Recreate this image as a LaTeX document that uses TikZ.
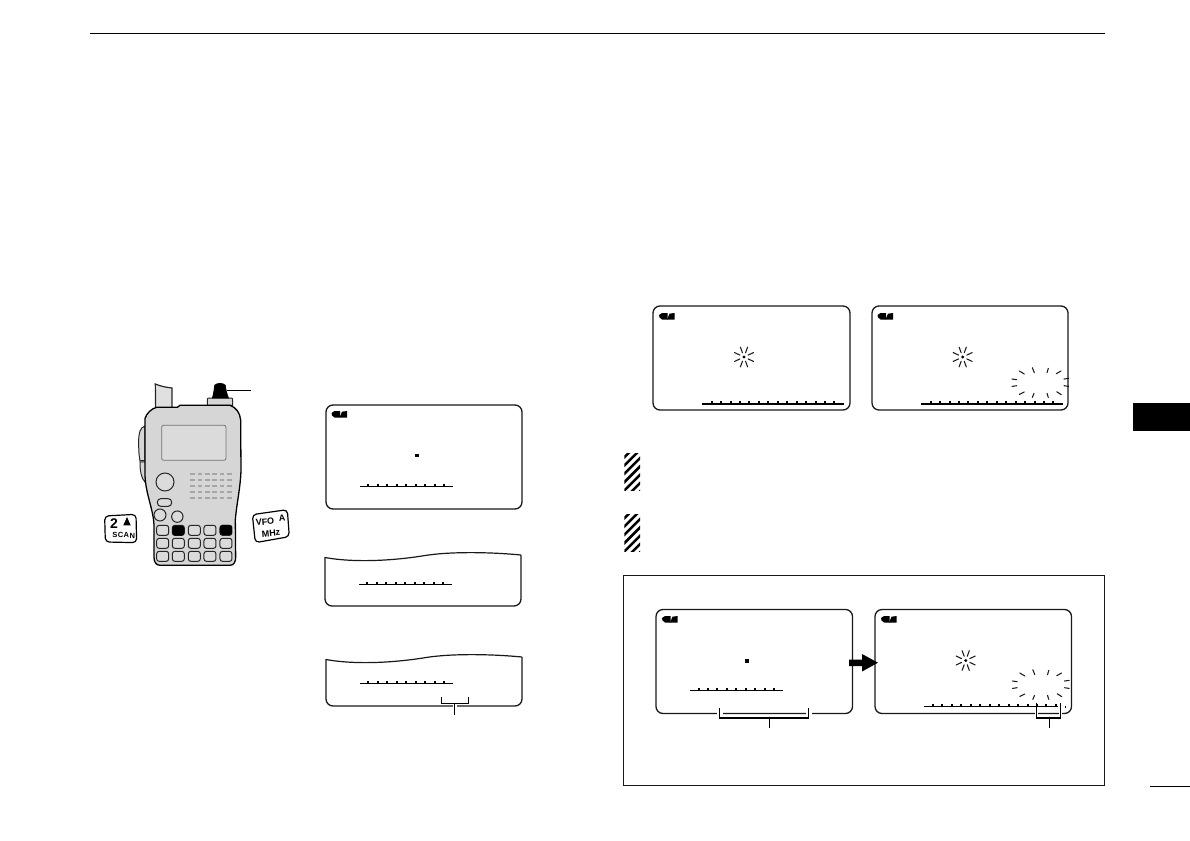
\documentclass[tikz,border=0pt]{standalone}
\usepackage{fontspec}
\setmainfont{Liberation Sans}
\tikzset{
  lcdbox/.style={draw=black!90,line width=1.3pt,rounded corners=7pt,fill=white},
  rule/.style={line width=1.5pt,draw=black},
  thinline/.style={line width=1.1pt,draw=black},
  burstray/.style={line width=1.05pt,draw=black!90,line cap=round},
  bodyline/.style={draw=black!85,line width=1pt},
  keytext/.style={inner sep=0pt,font=\bfseries\fontsize{9}{9}\selectfont},
  halo/.style={draw=white,line width=4pt}
}
\newcommand{\lcdicon}[2]{%
  \fill[black] (#1,#2+2) -- (#1+3,#2) -- (#1+8.5,#2) -- (#1+8.5,#2+6.5) -- (#1+3,#2+6.5) -- (#1+0.5,#2+4.5) -- cycle;
  \fill[black] (#1+10.5,#2+0.7) -- (#1+15.5,#2) -- (#1+15.5,#2+6.5) -- (#1+8,#2+6.5) -- cycle;
}
\newcommand{\lcdscale}[6]{%
  \draw[rule] (#1,#3) -- (#2,#3);
  \foreach \i in {0,...,#6} \fill[black] (#4+\i*#5-1,#3-2.6) rectangle (#4+\i*#5+1,#3);
}
\newcommand{\lcdburst}[2]{%
  \fill[black] (#1,#2) circle (1.7pt);
  \foreach \a in {25,70,110,155,205,250,290,335}
    \draw[burstray] ({#1+4.5*cos(\a)},{#2-4.5*sin(\a)}) -- ({#1+10.5*cos(\a)},{#2-10.5*sin(\a)});
}
\newcommand{\bigburst}[2]{%
  \begin{scope}[shift={(#1,#2)}]
  \foreach \xa/\ya/\xb/\yb in {-20.7/-11.7/-15.7/-8.7,-7.7/-15/-5.7/-10,8.3/-14.3/7/-10,21/-11.7/16.3/-9,
     -28/-3.7/-23.3/-3,-28/3.7/-23.3/3,-20.7/11.7/-15.7/9.3,-7.7/14.7/-6/10.7,8.3/14.7/7/10.7,21.3/12/16.7/9,
     24/-3.7/28.7/-4.3,24/3/28.7/3.7}
    \draw[burstray] (\xa,\ya) -- (\xb,\yb);
  \end{scope}
}
\newcommand{\hatchbar}[2]{%
  \begin{scope}
  \clip (#1,#2) rectangle (#1+15.7,#2+37.7);
  \foreach \k in {0,...,7}
    \draw[black,line width=2.5pt] (#1-4,#2+\k*8.3) -- (#1+20,#2+\k*8.3-24);
  \end{scope}
}
\begin{document}
\begin{tikzpicture}[x=1pt,y=-1pt]
\useasboundingbox (0,0) rectangle (1190,840);
\draw[black,line width=1.9pt] (90,33.5) -- (1105,33.5);
\fill[black] (1133,403) rectangle (1190,431);
\draw[black,line width=1.5pt] (1150,786.5) -- (1190,786.5);

% transceiver
\begin{scope}[shift={(90,370)},x=0.3333pt,y=-0.3333pt]
  \draw[bodyline,line width=1.2pt,fill=black!12] (196,42) .. controls (215,50) and (230,52) .. (246,54) -- (246,115) -- (197,115) -- cycle;
  \draw[bodyline,fill=black!16] (352,106) -- (352,88) .. controls (352,85) and (354,84) .. (358,84) -- (422,84) .. controls (426,84) and (428,85) .. (428,88) -- (428,106) -- cycle;
  \fill[black] (366,85) .. controls (370,70) and (372,55) .. (373,45) .. controls (380,37) and (400,37) .. (407,45) .. controls (408,58) and (412,72) .. (417,85) -- cycle;
  \draw[thinline] (412,62) -- (483,62);
  \draw[bodyline,fill=black!16] (165,168) .. controls (150,172) and (146,190) .. (146,215) .. controls (146,240) and (147,260) .. (150,272) -- (165,272) -- cycle;
  \draw[bodyline,fill=black!16] (150,276) .. controls (150,300) and (153,325) .. (165,336) -- (172,300) -- (165,276) -- cycle;
  \draw[draw=black,line width=1.3pt,fill=black!16] (165,145) .. controls (170,130) and (185,115) .. (200,112) -- (262,112) -- (270,106) -- (420,106) .. controls (438,112) and (450,128) .. (452,150)
    -- (453,300) .. controls (452,350) and (440,400) .. (436,450) -- (437,562) .. controls (437,575) and (432,586) .. (420,586)
    -- (210,586) .. controls (198,586) and (192,575) .. (192,562) -- (192,470) .. controls (192,420) and (165,370) .. (165,310) -- cycle;
  \draw[draw=black!55,line width=0.8pt,rounded corners=2pt,fill=black!14] (215,166) rectangle (408,271);
  \draw[bodyline,fill=black!14] (225,336) circle (9pt);
  \draw[bodyline,fill=black!14,rounded corners=3.5pt] (202,386) rectangle (245,409);
  \draw[bodyline,fill=black!14] (210,435) circle (6pt);
  \draw[bodyline,fill=black!14] (262,440) circle (5.7pt);
  \foreach \gy in {312,330,348,367,385}
    \foreach \gx in {308,330,352,374,396,418}
      \fill[black!35] (\gx-7,\gy-3) rectangle (\gx+7,\gy+3);
  \foreach \ky in {481,520,559}
    \foreach \kx in {218,265,313,360,408}
      \draw[bodyline,fill=black!14,rounded corners=2.5pt] (\kx-18,\ky-15) rectangle (\kx+18,\ky+15);
  \fill[black,rounded corners=2.5pt] (247,467) rectangle (283,497);
  \fill[black,rounded corners=2.5pt] (390,465) rectangle (426,495);
  % key 2 / SCAN
  \draw[draw=black,line width=1.2pt,fill=white,rounded corners=4pt] (44,438) -- (138,433) -- (140,518) -- (46,516) -- cycle;
  \node[keytext,font=\bfseries\fontsize{14}{14}\selectfont] (two) at (72,461) {2};
  \fill[black] (100,466) -- (122,466) -- (111,441) -- cycle;
  \node[keytext,font=\bfseries\fontsize{7.5}{7.5}\selectfont\addfontfeature{LetterSpace=6},rotate=-1] (scan) at (101,496) {SCAN};
  % key VFO / MHz
  \draw[draw=black,line width=1.2pt,fill=white,rounded corners=4pt] (487,434) -- (592,419) -- (598,500) -- (496,518) -- cycle;
  \node[keytext,rotate=5] (vfo) at (525,456) {VFO};
  \node[keytext,rotate=5] (keya) at (576,445) {A};
  \node[keytext,rotate=5] (mhz) at (543,490) {MHz};
\end{scope}

% left display
\draw[lcdbox] (326,405) rectangle (522,509);
\lcdicon{331.5}{411}
\fill[black] (415,453.5) rectangle (419,457);
\lcdscale{360}{453}{486.7}{368.3}{9.46}{8}

% cut-away displays
\draw[line width=1.3pt,draw=black!90,rounded corners=7pt] (325,557) -- (325,606) -- (521,606) -- (521,555);
\draw[line width=1.2pt,draw=black!90] (325,557.5) .. controls (355,563) and (395,560.5) .. (425,555.5) .. controls (450,551.5) and (490,552) .. (521,555);
\lcdscale{359}{452}{584.5}{367.3}{9.46}{8}

\draw[line width=1.3pt,draw=black!90,rounded corners=7pt] (326,659) -- (326,706) -- (522,706) -- (522,657);
\draw[line width=1.2pt,draw=black!90] (326,659.5) .. controls (356,665) and (396,662.5) .. (426,657.5) .. controls (451,653.5) and (491,654) .. (522,657);
\lcdscale{360}{453}{683.3}{368.3}{9.46}{8}
\coordinate (tagA) at (454.5,703.5);
\coordinate (tagAend) at (454.5,715);
\draw[halo] (tagA) -- (tagAend);
\draw[thinline] (441.5,697) -- (441.5,703.5) -- (468.5,703.5) -- (468.5,697);
\draw[thinline] (tagA) -- (tagAend);

% top right displays
\draw[lcdbox] (653,306) rectangle (850,410);
\lcdicon{659}{313}
\lcdburst{744}{357}
\lcdscale{702}{844}{404}{711.6}{9.45}{13}

\draw[lcdbox] (872,306) rectangle (1068,410);
\lcdicon{877.5}{313}
\lcdburst{962.7}{357}
\bigburst{1040}{382.7}
\lcdscale{921}{1063}{404}{930.6}{9.45}{13}

% hatched notes
\hatchbar{624.3}{453}
\hatchbar{624.3}{514}

% framed example
\draw[black!90,line width=0.8pt] (623,575) rectangle (1104,785);
\draw[lcdbox] (656,609.5) rectangle (852.5,713.5);
\lcdicon{662}{616}
\fill[black] (745.2,659) rectangle (749,662.5);
\lcdscale{690}{783}{690.5}{698.5}{9.46}{8}

\draw[lcdbox] (875,609.5) rectangle (1071.5,713.5);
\lcdicon{881}{616}
\lcdburst{965.7}{660.5}
\bigburst{1040.5}{684.7}
\lcdscale{924}{1058}{706.7}{933}{9.45}{13}
\fill[black] (1064.5,706) rectangle (1066.2,708);

% brackets of the framed example
\draw[draw=white,line width=6pt] (719.5,711) -- (719.5,716);
\draw[draw=white,line width=6pt] (808.5,711) -- (808.5,716);
\coordinate (tagB) at (769.5,718);
\coordinate (tagBend) at (769.5,728);
\draw[thinline] (719.5,708) -- (719.5,718) -- (808.5,718) -- (808.5,708);
\draw[thinline] (tagB) -- (tagBend);
\draw[draw=white,line width=3pt] (1036.5,711) -- (1036.5,716);
\draw[draw=white,line width=3pt] (1060.5,711) -- (1060.5,716);
\coordinate (tagC) at (1049.5,718);
\coordinate (tagCend) at (1049.5,728);
\draw[thinline] (1036.5,703) -- (1036.5,718) -- (1060.5,718) -- (1060.5,703);
\draw[thinline] (tagC) -- (tagCend);

% block arrow
\fill[black] (849,659.7) -- (862,659.7) -- (862,654) -- (878,662.7) -- (862,671.5) -- (862,666) -- (849,666) -- cycle;
\end{tikzpicture}
\end{document}
